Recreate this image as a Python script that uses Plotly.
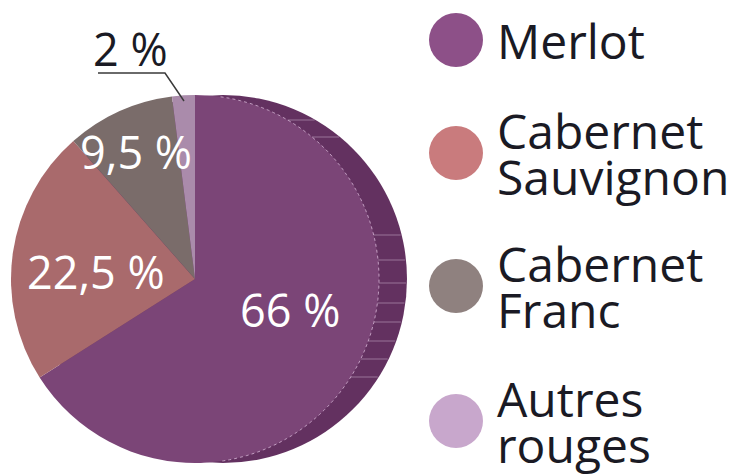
import math
import plotly.graph_objects as go

# ---- data ----
categories = ["Merlot", "Cabernet Sauvignon", "Cabernet Franc", "Autres rouges"]
legend_lines = [["Merlot"], ["Cabernet", "Sauvignon"], ["Cabernet", "Franc"], ["Autres", "rouges"]]
shares = [66, 22.5, 9.5, 2]

# ---- styles ----
slice_colors = ["#7b4577", "#a96a6c", "#7a6c6a", "#aa8bab"]
legend_colors = ["#8d5088", "#c97b7d", "#8f817f", "#c8a7cc"]
edge_color = "#633160"
W, H = 744, 474
FONT = "Open Sans"

def fmt(v):
    return f"{v:g} %".replace(".", ",")

# pie geometry (pixels)
cx, cy, r = 195, 279, 184
depth = 28

def dom(x0, y0, x1, y1):
    return dict(x=[x0 / W, x1 / W], y=[1 - y1 / H, 1 - y0 / H])

fig = go.Figure()

# side (3D edge) of the disc
fig.add_trace(go.Pie(
    values=[sum(shares)], labels=["edge"], marker=dict(colors=[edge_color], line=dict(width=0)),
    textinfo="none", hoverinfo="skip", sort=False, showlegend=False,
    domain=dom(cx - r + depth, cy - r, cx + r + depth, cy + r),
))

# front face
fig.add_trace(go.Pie(
    values=shares, labels=categories, marker=dict(colors=slice_colors, line=dict(width=0)),
    textinfo="none", sort=False, direction="clockwise", rotation=0, showlegend=False,
    domain=dom(cx - r, cy - r, cx + r, cy + r),
))

# legend markers
legend_y = [40, 153, 286, 421]
fig.add_trace(go.Scatter(
    x=[456] * len(categories), y=legend_y, mode="markers",
    marker=dict(size=54, color=legend_colors, line=dict(width=0)),
    showlegend=False, hoverinfo="skip", xaxis="x", yaxis="y",
))

annotations = []
line_gap = 46
for lines, yc in zip(legend_lines, legend_y):
    n = len(lines)
    for i, t in enumerate(lines):
        y = yc + (i - (n - 1) / 2) * line_gap
        annotations.append(dict(x=496, y=y, xref="x", yref="y", text=t, showarrow=False,
                                xanchor="left", yanchor="middle", borderpad=0,
                                font=dict(family=FONT, size=48, color="#1a1a24")))

# slice labels
label_pos = [(290, 309), (96, 271), (136, 151), (130, 48)]
label_cols = ["white", "white", "white", "#1a1a24"]
for v, (x, y), c in zip(shares, label_pos, label_cols):
    annotations.append(dict(x=x, y=y, xref="x", yref="y", text=fmt(v), showarrow=False,
                            xanchor="center", yanchor="middle", borderpad=0,
                            font=dict(family=FONT, size=45, color=c)))

shapes = [dict(type="path", xref="x", yref="y", path="M 98 73 L 165 73 L 184 101",
               line=dict(color="#3a3a3a", width=1.5), layer="above")]

# striations on the disc side
for sy in [120, 137, 235, 260, 283, 303, 322, 341, 359, 377]:
    dy = sy - cy
    if abs(dy) >= r:
        continue
    half = math.sqrt(r * r - dy * dy)
    shapes.append(dict(type="line", xref="x", yref="y", x0=cx + half, x1=cx + depth + half - 1,
                       y0=sy, y1=sy, line=dict(color="rgba(225,195,225,0.45)", width=1),
                       layer="above"))

# dashed rim line on the front face
pts = []
for k in range(0, 181):
    a = math.radians(8 + k * (172 - 8) / 180)
    pts.append((cx + r * math.sin(a), cy - r * math.cos(a)))
rim = "M " + " L ".join(f"{x:.1f} {y:.1f}" for x, y in pts)
shapes.append(dict(type="path", xref="x", yref="y", path=rim,
                   line=dict(color="rgba(230,200,230,0.7)", width=1, dash="dot"), layer="above"))

fig.update_layout(
    width=W, height=H, margin=dict(l=0, r=0, t=0, b=0),
    paper_bgcolor="white", plot_bgcolor="rgba(0,0,0,0)",
    xaxis=dict(range=[0, W], visible=False, domain=[0, 1], fixedrange=True),
    yaxis=dict(range=[H, 0], visible=False, domain=[0, 1], fixedrange=True),
    annotations=annotations, shapes=shapes,
)

fig.write_html("out.html", config={"displayModeBar": False},
               post_script="document.body.style.margin='0';document.body.style.overflow='hidden';")
